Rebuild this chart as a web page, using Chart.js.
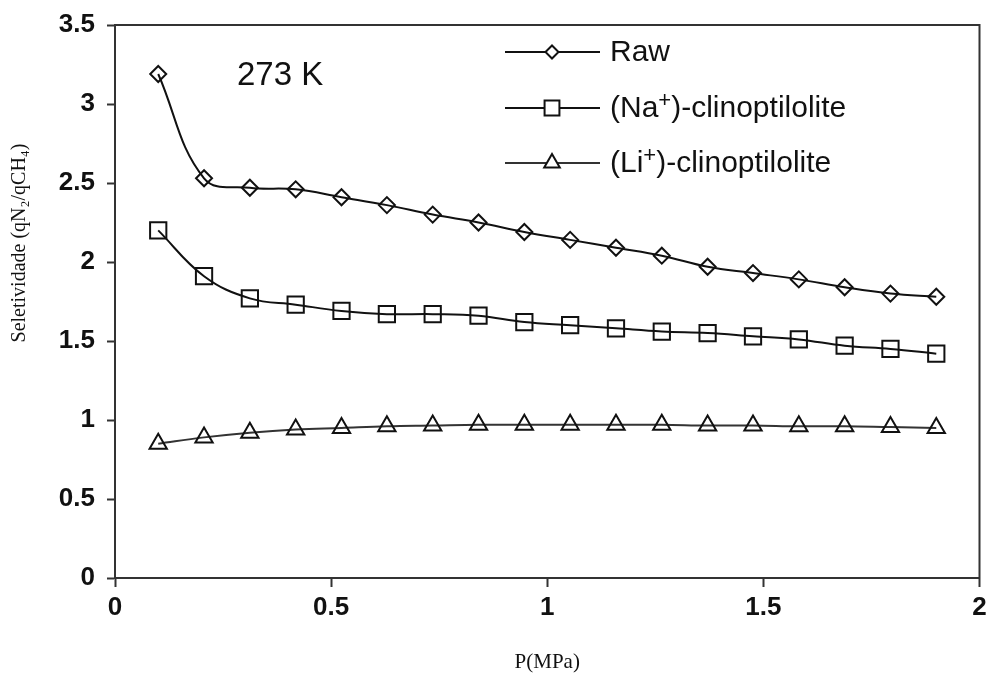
<!DOCTYPE html>
<html>
<head>
<meta charset="utf-8">
<script src="https://cdn.jsdelivr.net/npm/chart.js@4.4.1/dist/chart.umd.min.js"></script>
<style>
  html, body { margin: 0; padding: 0; background: #ffffff; }
  #wrap { width: 993px; height: 678px; }
</style>
</head>
<body>
<div id="wrap"><canvas id="c" width="993" height="678"></canvas></div>
<script>
// ---- data ----
const pressure = [0.1, 0.206, 0.312, 0.418, 0.524, 0.629, 0.735, 0.841, 0.947, 1.053, 1.159, 1.265, 1.371, 1.476, 1.582, 1.688, 1.794, 1.9];
const rawValues = [3.19, 2.53, 2.47, 2.46, 2.41, 2.36, 2.30, 2.25, 2.19, 2.14, 2.09, 2.04, 1.97, 1.93, 1.89, 1.84, 1.80, 1.78];
const naValues  = [2.20, 1.91, 1.77, 1.73, 1.69, 1.67, 1.67, 1.66, 1.62, 1.60, 1.58, 1.56, 1.55, 1.53, 1.51, 1.47, 1.45, 1.42];
const liValues  = [0.85, 0.89, 0.92, 0.94, 0.95, 0.96, 0.965, 0.97, 0.97, 0.97, 0.97, 0.97, 0.965, 0.965, 0.96, 0.96, 0.955, 0.95];
const seriesNames = ['Raw', '(Na\u207A)-clinoptilolite', '(Li\u207A)-clinoptilolite'];
const xTickValues = [0, 0.5, 1, 1.5, 2];
const yTickValues = [0, 0.5, 1, 1.5, 2, 2.5, 3, 3.5];
const annotationText = '273 K';
const xTitle = 'P(MPa)';
const yTitle = 'Seletividade (qN\u2082/qCH\u2084)';

function pts(ys) { return pressure.map((x, i) => ({ x: x, y: ys[i] })); }

const axisColor = '#333333';
const legendFont = '30px "Liberation Sans", Arial, sans-serif';
const supFont = '22px "Liberation Sans", Arial, sans-serif';

function drawLegendLabel(ctx, text, x, y) {
  const parts = text.split('\u207A');
  let cx = x;
  parts.forEach((p, i) => {
    ctx.font = legendFont;
    ctx.fillText(p, cx, y);
    cx += ctx.measureText(p).width;
    if (i < parts.length - 1) {
      ctx.font = supFont;
      ctx.fillText('+', cx, y - 8);
      cx += ctx.measureText('+').width;
    }
  });
}

const frameAndLegend = {
  id: 'frameAndLegend',
  afterDraw(chart) {
    const ctx = chart.ctx;
    const a = chart.chartArea;
    ctx.save();
    // top and right frame
    ctx.strokeStyle = axisColor;
    ctx.lineWidth = 2;
    ctx.beginPath();
    ctx.moveTo(a.left - 1, a.top);
    ctx.lineTo(a.right, a.top);
    ctx.lineTo(a.right, a.bottom + 1);
    ctx.stroke();

    // y axis title
    ctx.save();
    ctx.translate(20, 243);
    ctx.rotate(-Math.PI / 2);
    ctx.fillStyle = '#111';
    ctx.font = '20px "Liberation Serif", "Times New Roman", serif';
    ctx.textAlign = 'center';
    ctx.textBaseline = 'middle';
    ctx.fillText(yTitle, 0, 0);
    ctx.restore();

    // annotation
    ctx.fillStyle = '#111';
    ctx.font = '33px "Liberation Sans", Arial, sans-serif';
    ctx.textAlign = 'left';
    ctx.textBaseline = 'middle';
    ctx.fillText(annotationText, 237, 76);

    // legend
    const rows = [52, 108, 163];
    chart.data.datasets.forEach((ds, i) => {
      const y = rows[i];
      ctx.strokeStyle = ds.borderColor;
      ctx.lineWidth = 2;
      ctx.beginPath();
      ctx.moveTo(505, y);
      ctx.lineTo(600, y);
      ctx.stroke();
      const opts = { pointStyle: ds.pointStyle, radius: ds.legendRadius, borderWidth: 2, rotation: 0 };
      ctx.strokeStyle = ds.pointBorderColor;
      ctx.fillStyle = '#ffffff';
      ctx.lineWidth = 2;
      Chart.helpers.drawPoint(ctx, opts, 552, y);
      ctx.fillStyle = '#111';
      ctx.textBaseline = 'middle';
      drawLegendLabel(ctx, ds.label, 610, y + 1);
    });
    ctx.restore();
  }
};

const tickFont = { family: '"Liberation Sans", Arial, sans-serif', size: 26, weight: 'bold' };

new Chart(document.getElementById('c'), {
  type: 'line',
  data: {
    datasets: [
      {
        label: seriesNames[0], data: pts(rawValues),
        borderColor: '#111', borderWidth: 2, tension: 0.4,
        pointStyle: 'rectRot', pointRadius: 8, legendRadius: 6.5,
        pointBorderColor: '#111', pointBackgroundColor: 'rgba(0,0,0,0)', pointBorderWidth: 2
      },
      {
        label: seriesNames[1], data: pts(naValues),
        borderColor: '#111', borderWidth: 2, tension: 0.4,
        pointStyle: 'rect', pointRadius: 11.5, legendRadius: 10.5,
        pointBorderColor: '#111', pointBackgroundColor: 'rgba(0,0,0,0)', pointBorderWidth: 2
      },
      {
        label: seriesNames[2], data: pts(liValues),
        borderColor: '#333', borderWidth: 2, tension: 0.4,
        pointStyle: 'triangle', pointRadius: 10, legendRadius: 9,
        pointBorderColor: '#111', pointBackgroundColor: 'rgba(0,0,0,0)', pointBorderWidth: 2
      }
    ]
  },
  options: {
    responsive: false,
    animation: false,
    layout: { padding: { top: 25, right: 13, left: 0, bottom: 0 } },
    plugins: { legend: { display: false }, tooltip: { enabled: false } },
    scales: {
      x: {
        type: 'linear', min: 0, max: 2,
        afterBuildTicks(s) { s.ticks = xTickValues.map(v => ({ value: v })); },
        afterFit(s) { s.height = 100; s.paddingLeft = 0; s.paddingRight = 0; },
        grid: { drawOnChartArea: false, drawTicks: true, tickLength: 9, color: axisColor, tickWidth: 2 },
        border: { display: true, color: axisColor, width: 2 },
        ticks: { color: '#111', padding: 5, maxRotation: 0, font: tickFont,
          callback: v => String(v) },
        title: { display: true, text: xTitle, color: '#111',
          font: { family: '"Liberation Serif", "Times New Roman", serif', size: 21 },
          padding: { top: 0, bottom: 3 } }
      },
      y: {
        type: 'linear', min: 0, max: 3.5,
        afterBuildTicks(s) { s.ticks = yTickValues.map(v => ({ value: v })); },
        afterFit(s) { s.width = 115; s.paddingTop = 0; s.paddingBottom = 0; },
        grid: { drawOnChartArea: false, drawTicks: true, tickLength: 8, color: axisColor, tickWidth: 2 },
        border: { display: true, color: axisColor, width: 2 },
        ticks: { color: '#111', padding: 12, font: tickFont,
          callback: v => String(v) },
        title: { display: false }
      }
    }
  },
  plugins: [frameAndLegend]
});
</script>
</body>
</html>
